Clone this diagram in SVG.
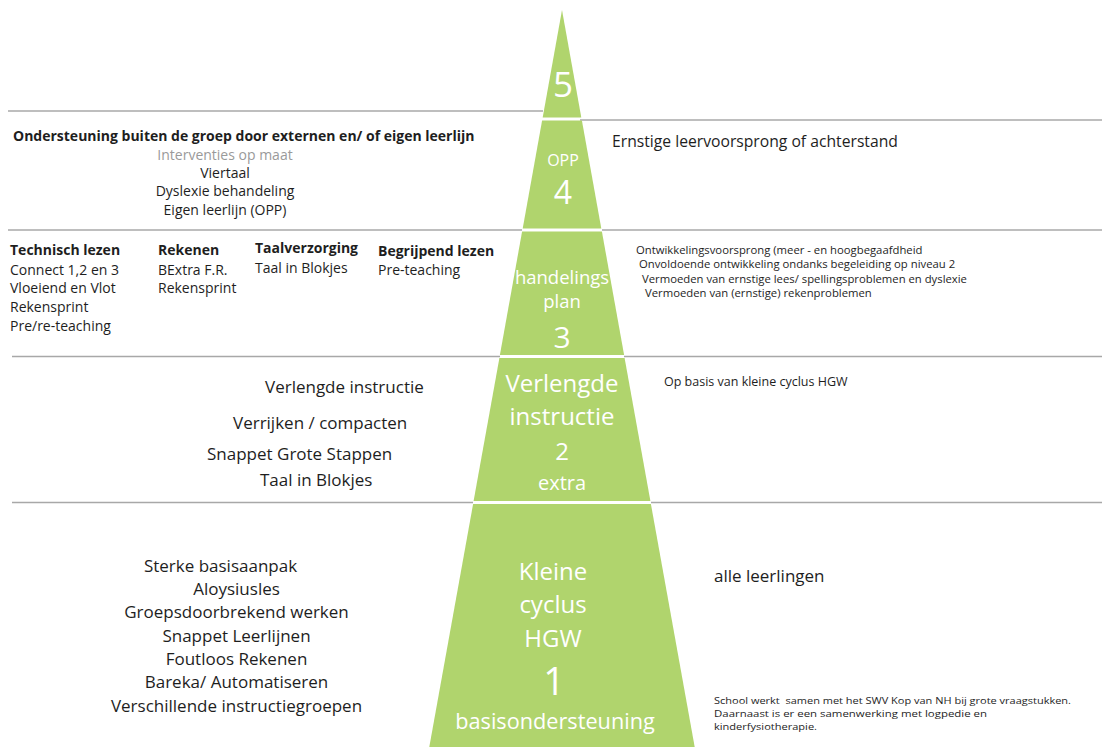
<svg xmlns="http://www.w3.org/2000/svg" width="1102" height="747" viewBox="0 0 1102 747">
<style>
text{font-family:"Open Sans","Liberation Sans",sans-serif;fill:#1e1e1e}
.w{fill:#ffffff;text-anchor:middle}
.c{text-anchor:middle}
.b{font-weight:bold}
.sep{stroke:#a8a8a8;stroke-width:1.5;fill:none}
.lvl{fill:#b0d46d}
.t13{font-size:14px}
.t11{font-size:11.3px}
.t10{font-size:9.6px}
.t17{font-size:17px}
</style>
<rect width="1102" height="747" fill="#ffffff"/>
<g id="separators">
<line class="sep" x1="8" y1="111" x2="543" y2="111"/>
<line class="sep" x1="580" y1="120" x2="1102" y2="120"/>
<line class="sep" x1="8" y1="230" x2="522" y2="230"/>
<line class="sep" x1="602" y1="230" x2="1102" y2="230"/>
<line class="sep" x1="12" y1="356.5" x2="500" y2="356.5"/>
<line class="sep" x1="624" y1="356.5" x2="1102" y2="356.5"/>
<line class="sep" x1="12" y1="502.5" x2="473" y2="502.5"/>
<line class="sep" x1="651" y1="502.5" x2="1102" y2="502.5"/>
</g>
<g id="level5">
<polygon class="lvl" points="562,10 581.3,117.5 542.7,117.5"/>
<text class="w" x="563" y="97" font-size="35">5</text>
</g>
<g id="level4">
<polygon class="lvl" points="542.1,120.5 581.9,120.5 601.3,228.5 522.7,228.5"/>
<text class="w" x="563" y="166" font-size="16">OPP</text>
<text class="w" x="563" y="204" font-size="32">4</text>
</g>
<g id="level3">
<polygon class="lvl" points="522.1,231.5 601.9,231.5 624.1,355 499.9,355"/>
<text class="w" x="562" y="284" font-size="18.5">handelings</text>
<text class="w" x="562" y="308" font-size="18.5">plan</text>
<text class="w" x="562" y="348" font-size="30">3</text>
</g>
<g id="level2">
<polygon class="lvl" points="499.4,358 624.6,358 650.4,501 473.6,501"/>
<text class="w" x="562" y="392" font-size="24">Verlengde</text>
<text class="w" x="562" y="425" font-size="24">instructie</text>
<text class="w" x="562" y="460" font-size="24">2</text>
<text class="w" x="562" y="490" font-size="20">extra</text>
</g>
<g id="level1">
<polygon class="lvl" points="473.1,504 650.9,504 694.7,747 429.3,747"/>
<text class="w" x="553" y="580" font-size="24">Kleine</text>
<text class="w" x="553" y="613" font-size="24">cyclus</text>
<text class="w" x="553" y="647" font-size="24">HGW</text>
<text class="w" x="554" y="695" font-size="38">1</text>
<text class="w" x="555" y="729" font-size="21.7">basisondersteuning</text>
</g>
<g id="row4-left">
<text class="b" x="13" y="141" font-size="14">Ondersteuning buiten de groep door externen en/ of eigen leerlijn</text>
<text class="c t13" x="225" y="160" style="fill:#9a9a9a">Interventies op maat</text>
<text class="c t13" x="225" y="178">Viertaal</text>
<text class="c t13" x="225" y="196">Dyslexie behandeling</text>
<text class="c t13" x="225" y="215">Eigen leerlijn (OPP)</text>
</g>
<g id="row4-right">
<text x="612" y="147" font-size="15.7">Ernstige leervoorsprong of achterstand</text>
</g>
<g id="row3-left">
<text class="b t13" x="10" y="255">Technisch lezen</text>
<text class="t13" x="10" y="275">Connect 1,2 en 3</text>
<text class="t13" x="10" y="293">Vloeiend en Vlot</text>
<text class="t13" x="10" y="312">Rekensprint</text>
<text class="t13" x="10" y="331">Pre/re-teaching</text>
<text class="b t13" x="158" y="255">Rekenen</text>
<text class="t13" x="158" y="275">BExtra F.R.</text>
<text class="t13" x="158" y="293">Rekensprint</text>
<text class="b t13" x="255" y="253">Taalverzorging</text>
<text class="t13" x="255" y="273">Taal in Blokjes</text>
<text class="b t13" x="378" y="256">Begrijpend lezen</text>
<text class="t13" x="378" y="275">Pre-teaching</text>
</g>
<g id="row3-right">
<text class="t11" x="636" y="254">Ontwikkelingsvoorsprong (meer - en hoogbegaafdheid</text>
<text class="t11" x="639" y="268">Onvoldoende ontwikkeling ondanks begeleiding op niveau 2</text>
<text class="t11" x="642" y="283">Vermoeden van ernstige lees/ spellingsproblemen en dyslexie</text>
<text class="t11" x="645" y="297">Vermoeden van (ernstige) rekenproblemen</text>
</g>
<g id="row2-left">
<text class="t17" x="265" y="393">Verlengde instructie</text>
<text class="t17" x="233" y="429">Verrijken / compacten</text>
<text class="t17" x="207" y="460">Snappet Grote Stappen</text>
<text class="t17" x="260" y="486">Taal in Blokjes</text>
</g>
<g id="row2-right">
<text x="664" y="386" font-size="12.5">Op basis van kleine cyclus HGW</text>
</g>
<g id="row1-left">
<text class="c t17" x="220.5" y="572">Sterke basisaanpak</text>
<text class="c t17" x="236.5" y="595">Aloysiusles</text>
<text class="c t17" x="236.5" y="618">Groepsdoorbrekend werken</text>
<text class="c t17" x="236.5" y="642">Snappet Leerlijnen</text>
<text class="c t17" x="236.5" y="665">Foutloos Rekenen</text>
<text class="c t17" x="236.5" y="688">Bareka/ Automatiseren</text>
<text class="c t17" x="236.5" y="712">Verschillende instructiegroepen</text>
</g>
<g id="row1-right">
<text class="t17" x="714" y="582">alle leerlingen</text>
<text class="t10" x="714" y="704" textLength="357" lengthAdjust="spacingAndGlyphs" xml:space="preserve">School werkt  samen met het SWV Kop van NH bij grote vraagstukken.</text>
<text class="t10" x="714" y="717" textLength="273" lengthAdjust="spacingAndGlyphs">Daarnaast is er een samenwerking met logpedie en</text>
<text class="t10" x="714" y="730" textLength="103" lengthAdjust="spacingAndGlyphs">kinderfysiotherapie.</text>
</g>
</svg>
